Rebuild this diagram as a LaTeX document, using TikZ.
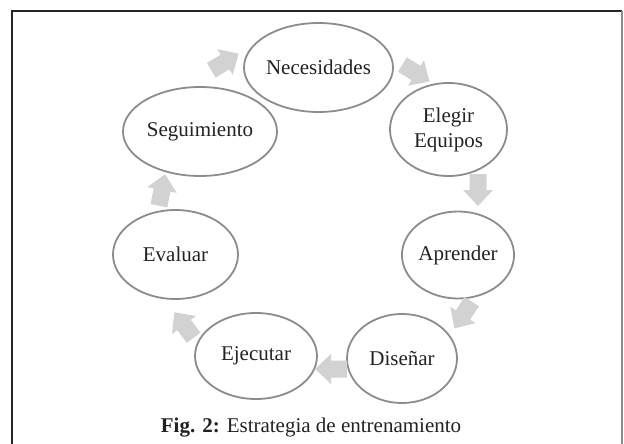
\documentclass[tikz,border=0pt]{standalone}
\usepackage{fontspec}
\setmainfont{Liberation Serif}
\usepackage{tikz}
\usetikzlibrary{shapes.geometric}

\definecolor{ringgray}{HTML}{8C8C8C}
\definecolor{arrowgray}{HTML}{D2D2D2}
\definecolor{inkgray}{HTML}{222222}

\tikzset{
  stage/.style={ellipse, draw=ringgray, line width=1.8pt, inner sep=0pt,
    align=center, text=inkgray, font=\fontsize{21}{25}\selectfont},
  cyclearrow/.style={fill=arrowgray, draw=none}
}

\begin{document}
\begin{tikzpicture}[x=1pt,y=-1pt]
      \useasboundingbox (0,0) rectangle (624,444);

      \draw[line width=2pt,black!85] (11.5,444)--(11.5,11)--(622,11);
      \draw[line width=1.2pt,black!45] (622,11)--(622,444);

      \node[stage,minimum width=149pt,minimum height=89pt] (nec) at (318.5,67.5) {Necesidades};
      \node[stage,minimum width=117pt,minimum height=93pt] (eleg) at (448.5,129.5) {Elegir\\Equipos};
      \node[stage,minimum width=109pt,minimum height=87pt] (apr) at (458,255) {Aprender};
      \node[stage,minimum width=110pt,minimum height=89pt] (dis) at (402,358.5) {Diseñar};
      \node[stage,minimum width=122pt,minimum height=86pt] (eje) at (256,356) {Ejecutar};
      \node[stage,minimum width=125pt,minimum height=89pt] (eva) at (175.5,254.5) {Evaluar};
      \node[stage,minimum width=154pt,minimum height=89pt] (seg) at (200,131.5) {Seguimiento};

      \foreach \x/\y/\a in {225/62/31, 416/73/-32, 478/190/-90, 463/315/-123,
                            331/369/180, 184/325/127, 162/190/79}
        \fill[cyclearrow,shift={(\x,\y)},rotate=\a]
          (-16,-8.5)--(0,-8.5)--(0,-15)--(16,0)--(0,15)--(0,8.5)--(-16,8.5)--cycle;

      \node[anchor=base,text=inkgray,font=\fontsize{21}{25}\selectfont] (caption) at (311,432)
        {\textbf{Fig. 2:} Estrategia de entrenamiento};
    \end{tikzpicture}
\end{document}
